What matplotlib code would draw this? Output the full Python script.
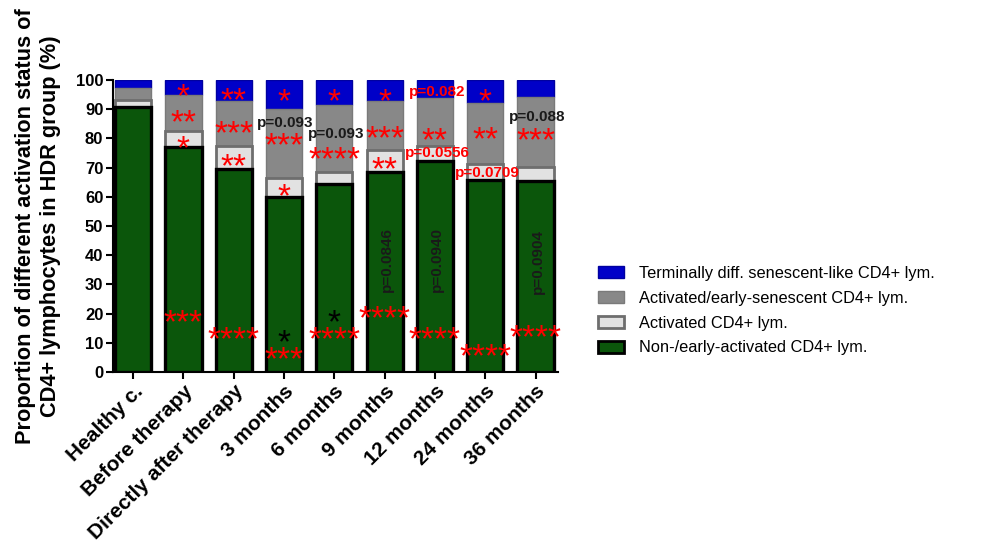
import numpy as np
import matplotlib.pyplot as plt
from matplotlib.patches import Patch
from matplotlib.transforms import offset_copy

plt.rcParams['font.family'] = ['Liberation Sans', 'DejaVu Sans']

groups = ["Healthy c.", "Before therapy", "Directly after therapy", "3 months",
          "6 months", "9 months", "12 months", "24 months", "36 months"]

# percentages of each subset, stacked bottom to top
non_early = [90.7, 76.9, 69.5, 59.8, 64.4, 68.6, 72.4, 65.8, 65.5]
activated = [2.6, 5.6, 7.9, 6.5, 4.2, 7.4, 5.0, 5.6, 4.6]
act_early_sen = [3.9, 12.4, 15.4, 23.7, 22.8, 16.9, 16.3, 20.6, 24.2]
terminal = [2.8, 5.1, 7.2, 10.0, 8.6, 7.1, 6.3, 8.0, 5.7]

series_names = ["Non-/early-activated CD4+ lym.", "Activated CD4+ lym.",
                "Activated/early-senescent CD4+ lym.",
                "Terminally diff. senescent-like CD4+ lym."]

# significance marks: (bar index, y, text, colour)
marks = [
    (1, 97.6, "*", "red"), (1, 88.7, "**", "red"), (1, 79.8, "*", "red"),
    (1, 20.2, "***", "red"),
    (2, 96.2, "**", "red"), (2, 84.9, "***", "red"), (2, 73.6, "**", "red"),
    (2, 14.4, "****", "red"),
    (3, 95.9, "*", "red"), (3, 80.8, "***", "red"), (3, 63.4, "*", "red"),
    (3, 13.4, "*", "black"), (3, 7.5, "***", "red"),
    (4, 95.9, "*", "red"), (4, 76.0, "****", "red"),
    (4, 20.2, "*", "black"), (4, 14.4, "****", "red"),
    (5, 95.9, "*", "red"), (5, 83.2, "***", "red"), (5, 72.6, "**", "red"),
    (5, 21.6, "****", "red"),
    (6, 82.5, "**", "red"), (6, 14.4, "****", "red"),
    (7, 95.9, "*", "red"), (7, 82.9, "**", "red"), (7, 8.6, "****", "red"),
    (8, 82.5, "***", "red"), (8, 15.1, "****", "red"),
]

# p-value labels: (x, y, text, colour, rotation)
pvals = [
    (3.03, 85.2, "p=0.093", "#1a1a1a", 0),
    (4.04, 81.5, "p=0.093", "#1a1a1a", 0),
    (5.04, 38.4, "p=0.0846", "#1a1a1a", 90),
    (6.04, 96.0, "p=0.082", "red", 0),
    (6.05, 74.9, "p=0.0556", "red", 0),
    (6.03, 38.4, "p=0.0940", "#1a1a1a", 90),
    (7.04, 68.3, "p=0.0709", "red", 0),
    (8.03, 87.4, "p=0.088", "#1a1a1a", 0),
    (8.04, 38.0, "p=0.0904", "#1a1a1a", 90),
]

fig = plt.figure(figsize=(9.95, 5.45), dpi=100)
ax = fig.add_axes([0.1136, 0.3174, 0.4474, 0.5358])

x = np.arange(len(groups))
w = 0.72
g = np.array(non_early)
a = np.array(activated)
s = np.array(act_early_sen)
t = np.array(terminal)

ax.bar(x, t, w, bottom=g + a + s, color="#0000c8", edgecolor="#0000a0", linewidth=1.0, zorder=2)
ax.bar(x, s, w, bottom=g + a, color="#888888", edgecolor="#7a7a7a", linewidth=1.0, zorder=2)
ax.bar(x, a, w, bottom=g, color="#e2e2e2", edgecolor="#6e6e6e", linewidth=2.0, zorder=2)
ax.bar(x, g, w, color="#0b560b", edgecolor="black", linewidth=2.4, zorder=3)

# the asterisk glyph sits high in the em box, so shift it down onto its y value
star_size = 24
star_tr = offset_copy(ax.transData, fig=fig, y=-0.58 * star_size, units="points")
for i, y, txt, col in marks:
    ax.text(x[i], y, txt, color=col, fontsize=star_size, ha="center", va="baseline",
            transform=star_tr, zorder=5)
for xp, y, txt, col, rot in pvals:
    ax.text(xp, y, txt, color=col, fontsize=11, ha="center", va="center",
            rotation=rot, fontweight="bold", zorder=5)

ax.set_xlim(-0.4, 8.45)
ax.set_ylim(0, 100)
ax.set_yticks(np.arange(0, 101, 10))
ax.set_xticks(x)
ax.set_xticklabels(groups, rotation=45, ha="right", rotation_mode="anchor",
                   fontsize=15, fontweight="bold")
for lab in ax.get_yticklabels():
    lab.set_fontsize(12)
    lab.set_fontweight("bold")
ax.tick_params(axis="both", direction="out", length=5, width=1.5, pad=2)
for side in ("top", "right"):
    ax.spines[side].set_visible(False)
for side in ("left", "bottom"):
    ax.spines[side].set_linewidth(1.5)
ax.set_ylabel("Proportion of different activation status of\nCD4+ lymphocytes in HDR group (%)",
              fontsize=15.7, fontweight="bold", labelpad=11)

handles = [
    Patch(facecolor="#0000c8", edgecolor="#0000a0", label=series_names[3]),
    Patch(facecolor="#888888", edgecolor="#7a7a7a", label=series_names[2]),
    Patch(facecolor="#e2e2e2", edgecolor="#6e6e6e", linewidth=2, label=series_names[1]),
    Patch(facecolor="#0b560b", edgecolor="black", linewidth=2, label=series_names[0]),
]
fig.legend(handles=handles, loc="center left", bbox_to_anchor=(0.586, 0.43),
           frameon=False, fontsize=11.8, handlelength=1.6, handleheight=0.75,
           labelspacing=0.6, handletextpad=0.9)

fig.savefig("out.png", dpi=100)
